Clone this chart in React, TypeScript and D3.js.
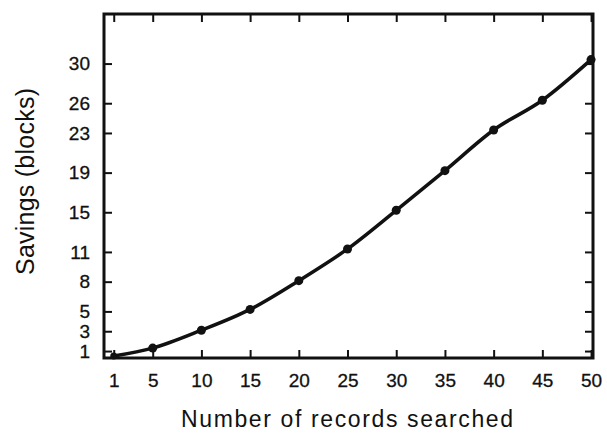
import React, { useEffect, useRef } from 'react';
import * as d3 from 'd3';

// Records searched (x) and savings in blocks (y)
const records = [1, 5, 10, 15, 20, 25, 30, 35, 40, 45, 50];
const savings = [0.5, 1.3, 3.1, 5.2, 8.1, 11.3, 15.2, 19.2, 23.3, 26.3, 30.4];

// Tick labels as printed on the axes
const xTicks = [1, 5, 10, 15, 20, 25, 30, 35, 40, 45, 50];
const yTicks = [1, 3, 5, 8, 11, 15, 19, 23, 26, 30];

const width = 607;
const height = 434;
const margin = { top: 14, right: 14, bottom: 76, left: 104 };
const ink = '#111';
const font = 'Liberation Sans, Arial, Helvetica, sans-serif';

const App = () => {
  const svgRef = useRef<SVGSVGElement>(null);

  useEffect(() => {
    const svg = d3.select(svgRef.current);
    svg.selectAll('*').remove();

    const x = d3
      .scaleLinear()
      .domain([0, 50.2])
      .range([margin.left, width - margin.right]);

    const y = d3
      .scaleLinear()
      .domain([0.3, 35])
      .range([height - margin.bottom, margin.top]);

    const tickLen = 8;

    // bottom axis with labels, ticks pointing into the box
    const bottom = svg
      .append('g')
      .attr('transform', `translate(0, ${height - margin.bottom})`)
      .call(d3.axisBottom(x).tickValues(xTicks).tickSize(-tickLen).tickPadding(16));
    bottom.select('.domain').remove();

    // top axis, ticks only
    const top = svg
      .append('g')
      .attr('transform', `translate(0, ${margin.top})`)
      .call(d3.axisTop(x).tickValues(xTicks).tickSize(-tickLen).tickFormat(() => ''));
    top.select('.domain').remove();

    // left axis with labels
    const left = svg
      .append('g')
      .attr('transform', `translate(${margin.left}, 0)`)
      .call(d3.axisLeft(y).tickValues(yTicks).tickSize(-tickLen).tickPadding(14));
    left.select('.domain').remove();

    // right axis, ticks only
    const right = svg
      .append('g')
      .attr('transform', `translate(${width - margin.right}, 0)`)
      .call(d3.axisRight(y).tickValues(yTicks).tickSize(-tickLen).tickFormat(() => ''));
    right.select('.domain').remove();

    svg
      .selectAll('.tick line')
      .attr('stroke', ink)
      .attr('stroke-width', 2);

    svg
      .selectAll('.tick text')
      .attr('fill', ink)
      .attr('stroke', ink)
      .attr('stroke-width', 0.3)
      .style('font-family', font)
      .style('font-size', '19px');

    // frame
    svg
      .append('rect')
      .attr('x', margin.left)
      .attr('y', margin.top)
      .attr('width', width - margin.left - margin.right)
      .attr('height', height - margin.top - margin.bottom)
      .attr('fill', 'none')
      .attr('stroke', ink)
      .attr('stroke-width', 3);

    // curve
    const pts = records.map((r, i) => [r, savings[i]] as [number, number]);
    const line = d3
      .line<[number, number]>()
      .x((d) => x(d[0]))
      .y((d) => y(d[1]))
      .curve(d3.curveMonotoneX);

    svg
      .append('path')
      .datum(pts)
      .attr('d', line)
      .attr('fill', 'none')
      .attr('stroke', ink)
      .attr('stroke-width', 3.5)
      .attr('stroke-linejoin', 'round');

    svg
      .append('g')
      .selectAll('circle')
      .data(pts)
      .enter()
      .append('circle')
      .attr('cx', (d) => x(d[0]))
      .attr('cy', (d) => y(d[1]))
      .attr('r', (d, i) => (i === 0 ? 3.5 : 4.5))
      .attr('fill', ink);

    // axis titles
    svg
      .append('text')
      .attr('x', 181)
      .attr('y', 427)
      .attr('textLength', 332)
      .attr('lengthAdjust', 'spacing')
      .attr('fill', ink)
      .style('font-family', font)
      .style('font-size', '23px')
      .text('Number of records searched');

    svg
      .append('text')
      .attr('transform', 'translate(34, 275) rotate(-90)')
      .attr('textLength', 187)
      .attr('lengthAdjust', 'spacing')
      .attr('fill', ink)
      .style('font-family', font)
      .style('font-size', '25px')
      .text('Savings (blocks)');
  }, []);

  return (
    <svg
      ref={svgRef}
      width={width}
      height={height}
      style={{ position: 'absolute', left: 0, top: 0, background: '#fff' }}
    ></svg>
  );
};

export default App;
